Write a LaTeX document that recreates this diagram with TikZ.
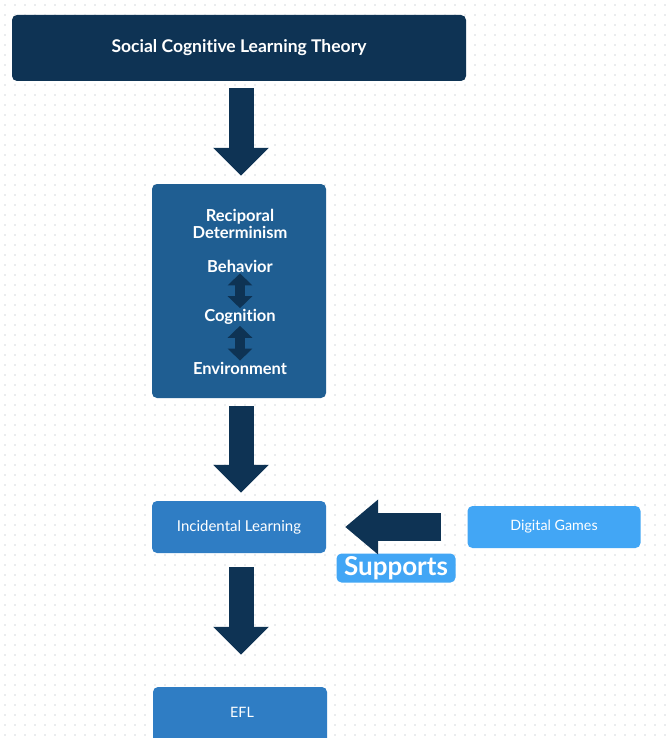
\documentclass[tikz,border=0pt]{standalone}
\usepackage{fontspec}
\setmainfont{Lato}[Ligatures=NoCommon]
\usetikzlibrary{arrows.meta,positioning}

\definecolor{navy}{HTML}{0E3354}
\definecolor{midblue}{HTML}{1F5E92}
\definecolor{stepblue}{HTML}{2F7DC4}
\definecolor{skyblue}{HTML}{42A6F5}
\definecolor{dotgray}{HTML}{D6D9DD}

\begin{document}
\begin{tikzpicture}[x=1pt, y=-1pt,
    every node/.style={text=white},
    topbox/.style={fill=navy, rounded corners=5pt, minimum width=454pt, minimum height=66pt,
      font=\fontsize{17.5}{20}\selectfont\bfseries},
    groupbox/.style={fill=midblue, rounded corners=5pt, minimum width=174pt, minimum height=214pt},
    grouptext/.style={font=\fontsize{16.5}{17}\selectfont\bfseries, align=center, inner sep=1pt},
    stepbox/.style={fill=stepblue, rounded corners=5pt, minimum width=174pt, minimum height=52pt,
      font=\fontsize{15}{17}\selectfont},
    sidebox/.style={fill=skyblue, rounded corners=5pt, minimum width=173pt, minimum height=42pt,
      font=\fontsize{14.3}{17}\selectfont},
    fat/.style={draw=navy, line width=25pt, -{Triangle[length=28pt, width=54pt]}},
    thin/.style={draw=navy, line width=10pt, {Triangle[length=12pt, width=24pt]}-{Triangle[length=12pt, width=24pt]}}]

  \useasboundingbox (0,0) rectangle (669,738);
  \fill[white] (0,0) rectangle (669,738);

  % dotted canvas
  \foreach \i in {0,...,66}
    \foreach \j in {0,...,73}
      \fill[dotgray] (\i*10+5, \j*10+5) circle (0.8);

  % theory
  \node[topbox] (theory) at (239, 48) {Social Cognitive Learning Theory};

  % reciprocal determinism
  \node[groupbox] (recip) at (239, 291) {};
  \node[grouptext] (recipname) at (240, 224) {Reciporal\\Determinism};
  \node[grouptext] (behav) at (240, 266) {Behavior};
  \node[grouptext] (cogn) at (240, 317) {Cognition};
  \node[grouptext] (env) at (240, 368) {Environment};
  \draw[thin] (behav) -- (cogn);
  \draw[thin] (cogn) -- (env);

  % incidental learning and games
  \node[stepbox] (incid) at (239, 527) {Incidental Learning};
  \node[sidebox] (games) at (554, 527) {Digital Games};
  \node[fill=skyblue, rounded corners=5pt, minimum width=119pt, minimum height=29pt, inner sep=1pt,
    font=\fontsize{26}{28}\selectfont\bfseries] (supp) at (396, 568) {Supports};

  % EFL
  \node[stepbox, minimum height=58pt] (efl) at (240, 716) {};
  \node[font=\fontsize{14.3}{17}\selectfont] (efltext) at (242, 712) {EFL};

  % arrows
  \draw[fat, shorten <=7pt, shorten >=8pt] ([xshift=2pt]theory.south) -- ([xshift=2pt]recip.north);
  \draw[fat, shorten <=8pt, shorten >=8pt] ([xshift=2pt]recip.south) -- ([xshift=2pt]incid.north);
  \draw[fat, shorten <=14pt, shorten >=32pt] ([xshift=2pt]incid.south) -- ([xshift=1pt]efl.north);
  \draw[draw=navy, line width=28pt, -{Triangle[length=33pt, width=53pt]}, shorten <=26pt, shorten >=19pt]
    (games.west) -- (incid.east);
\end{tikzpicture}
\end{document}
